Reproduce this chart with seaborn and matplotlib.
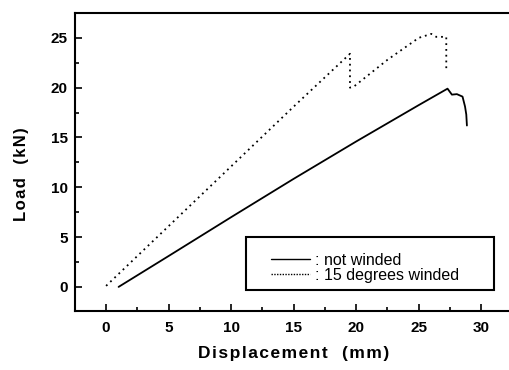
import matplotlib
matplotlib.use("Agg")
import matplotlib.pyplot as plt
import seaborn as sns
import pandas as pd
from matplotlib.ticker import MultipleLocator
from matplotlib.patches import Rectangle

sns.set_theme(style="ticks", rc={"text.color": "black", "axes.labelcolor": "black",
                                 "xtick.color": "black", "ytick.color": "black",
                                 "axes.edgecolor": "black"})
plt.rcParams['font.family'] = ['Liberation Sans', 'DejaVu Sans']

# not winded
x_nw = [1.0, 5.0, 10.0, 15.0, 20.0, 25.0, 27.3, 27.65, 28.05, 28.5, 28.7, 28.8, 28.85]
y_nw = [0.0, 3.1, 7.0, 10.85, 14.6, 18.25, 19.9, 19.3, 19.35, 19.1, 18.1, 17.3, 16.2]
# 15 degrees winded
x_15 = [0.0, 5.0, 10.0, 15.0, 19.5, 19.5, 19.8, 22.5, 25.0, 26.0, 26.4, 27.2, 27.2]
y_15 = [0.1, 6.1, 12.1, 18.1, 23.4, 20.0, 20.1, 22.8, 25.0, 25.4, 25.1, 25.1, 21.8]

labels = [": not winded", ": 15 degrees winded"]

df = pd.concat([
    pd.DataFrame({"x": x_nw, "y": y_nw, "s": labels[0]}),
    pd.DataFrame({"x": x_15, "y": y_15, "s": labels[1]}),
])

fig = plt.figure(figsize=(5.09, 3.70), dpi=100)
ax = fig.add_axes([0.147, 0.16, 0.86, 0.805])

sns.lineplot(data=df, x="x", y="y", style="s", sort=False, estimator=None,
             color="black", dashes={labels[0]: "", labels[1]: (1, 2.2)}, linewidth=1.3, ax=ax)

ax.set_xlim(-2.5, 32.5)
ax.set_ylim(-2.4, 27.5)
ax.xaxis.set_major_locator(MultipleLocator(5))
ax.xaxis.set_minor_locator(MultipleLocator(2.5))
ax.yaxis.set_major_locator(MultipleLocator(5))
ax.yaxis.set_minor_locator(MultipleLocator(2.5))
ax.tick_params(which="both", direction="in", width=1.2, colors="black", labelsize=11)
ax.tick_params(axis="y", which="major", length=5, pad=5)
ax.tick_params(axis="x", which="major", length=5, pad=7)
ax.tick_params(which="minor", length=3)
for lab in ax.get_xticklabels() + ax.get_yticklabels():
    lab.set_fontweight("bold")
for sp in ax.spines.values():
    sp.set_linewidth(1.5)
    sp.set_color("black")

xl = "Displacement  (mm)"
yl = "Load  (kN)"
ax.set_xlabel("\u200a".join(xl), fontsize=12.5, fontweight="bold", labelpad=8)
ax.set_ylabel("\u200a".join(yl), fontsize=12, fontweight="bold")
ax.yaxis.set_label_coords(-0.105, 0.46)

ax.add_patch(Rectangle((0.391, 0.07), 0.566, 0.178, transform=ax.transAxes,
                       fill=False, edgecolor="black", linewidth=1.5, zorder=5))
leg = ax.legend(loc="upper left", bbox_to_anchor=(0.449, 0.195), fontsize=11.5,
                frameon=False, handlelength=2.4, borderpad=0, handletextpad=0.35,
                labelspacing=0.0, borderaxespad=0)
for h in leg.get_lines():
    h.set_linewidth(1.0)
leg.get_lines()[1].set_dashes((1, 1))

fig.savefig("out.png", dpi=100)
